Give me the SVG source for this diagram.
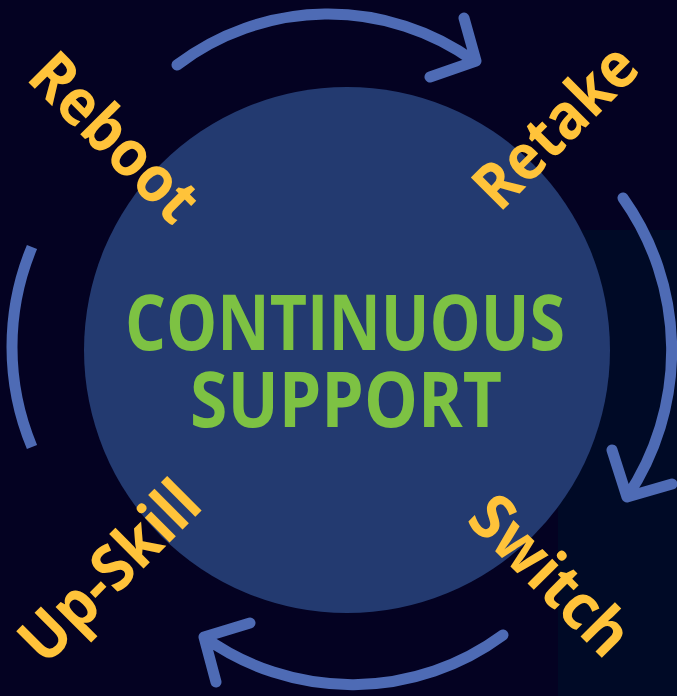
<svg xmlns="http://www.w3.org/2000/svg" width="677" height="696" viewBox="0 0 677 696">
<style>
.arc{fill:none;stroke:#4e6bb5;stroke-width:11;stroke-linecap:round;stroke-linejoin:round}
.lbl{font-family:"Open Sans","Liberation Sans",sans-serif;font-weight:700;font-size:64px;fill:#ffc33a;text-anchor:middle}
.main{font-family:"Open Sans","Liberation Sans",sans-serif;font-weight:700;font-size:77px;fill:#7dc243;text-anchor:middle}
</style>
<rect x="0" y="0" width="677" height="696" fill="#040222"/>
<rect x="558" y="230" width="119" height="466" fill="#000a26"/>
<g id="center">
<circle cx="347" cy="350" r="263" fill="#233a70"/>
<text class="main" x="345" y="350" textLength="440" lengthAdjust="spacingAndGlyphs">CONTINUOUS</text>
<text class="main" x="346" y="427" textLength="312" lengthAdjust="spacingAndGlyphs">SUPPORT</text>
</g>
<g id="connectors">
<path class="arc" d="M177,65 A250,250 0 0 1 474,61 M464,18 L476,61 L430,77"/>
<path class="arc" d="M623,198 A263,263 0 0 1 627,497 M612,450 L627,497 L672,484"/>
<path class="arc" d="M503,635 A254,254 0 0 1 204,637 M250,623 L204,637 L216,682"/>
<path class="arc" style="stroke-linecap:butt" d="M32,247 A260,260 0 0 0 32,447"/>
</g>
<g id="reboot"><text class="lbl" transform="translate(99,153) rotate(45)" textLength="210" lengthAdjust="spacingAndGlyphs">Reboot</text></g>
<g id="retake"><text class="lbl" transform="translate(571,142) rotate(-45)" textLength="202" lengthAdjust="spacingAndGlyphs">Retake</text></g>
<g id="switch"><text class="lbl" transform="translate(535,591) rotate(45)" textLength="198" lengthAdjust="spacingAndGlyphs">Switch</text></g>
<g id="upskill"><text class="lbl" transform="translate(125,587) rotate(-45)" textLength="226" lengthAdjust="spacingAndGlyphs">Up-Skill</text></g>
</svg>
